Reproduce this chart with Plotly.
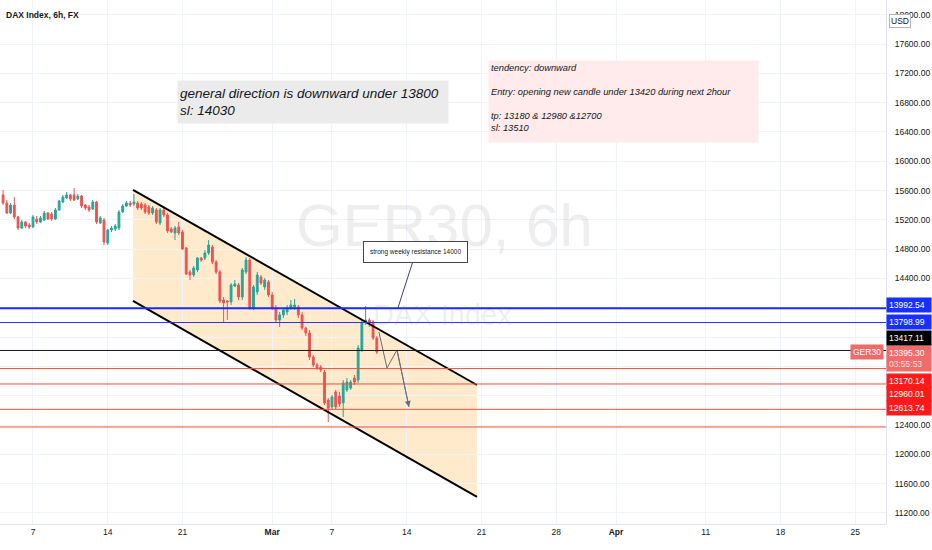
import numpy as np
import pandas as pd
import plotly.graph_objects as go

SANS = "Liberation Sans, Arial, sans-serif"
UP, DOWN = "#26a69a", "#ef5350"

# 6h bars, weekdays only, 2022-02-03 00:00 .. 2022-03-10 00:00
bar_open = [15540, 15430, 15294, 15403, 15239, 15089, 15171, 15130, 15103, 15212,
            15171, 15198, 15294, 15280, 15212, 15335, 15444, 15499, 15540, 15540,
            15485, 15526, 15403, 15376, 15348, 15444, 15157, 15198, 14884, 15062,
            15075, 15089, 15307, 15389, 15430, 15417, 15430, 15417, 15403, 15376,
            15294, 15335, 15157, 15335, 15267, 15075, 15021, 15103, 15034, 14816,
            14489, 14448, 14516, 14679, 14679, 14748, 14830, 14625, 14489, 14106,
            14093, 14079, 14297, 14311, 14147, 14489, 14652, 13997, 14216, 14420,
            14284, 14352, 14175, 13997, 13833, 13902, 13942, 13997, 14011, 14011,
            13902, 13724, 13656, 13328, 13219, 13191, 13123, 12741, 12646, 12851,
            12797, 12701, 12878, 12906, 13042, 13014, 13424, 13792, 13833, 13806,
            13588]
bar_high = [15608, 15471, 15430, 15512, 15253, 15198, 15185, 15157, 15267, 15253,
            15253, 15321, 15307, 15307, 15362, 15471, 15540, 15580, 15553, 15635,
            15553, 15540, 15417, 15403, 15471, 15458, 15253, 15226, 15075, 15116,
            15144, 15335, 15417, 15458, 15458, 15553, 15458, 15444, 15430, 15403,
            15389, 15362, 15362, 15362, 15294, 15103, 15116, 15171, 15062, 14830,
            14516, 14570, 14693, 14693, 14789, 14925, 14857, 14652, 14516, 14147,
            14106, 14338, 14379, 14338, 14543, 14693, 14679, 14311, 14489, 14448,
            14406, 14379, 14216, 14038, 13942, 13997, 14038, 14106, 14120, 14038,
            13942, 13738, 13697, 13356, 13246, 13219, 13151, 12769, 12810, 12878,
            12851, 13014, 13042, 13014, 13083, 13492, 13833, 14024, 13861, 13833,
            13615]
bar_low = [15403, 15280, 15280, 15212, 15062, 15075, 15089, 15075, 15089, 15144,
           15157, 15185, 15198, 15185, 15198, 15321, 15430, 15485, 15458, 15458,
           15471, 15362, 15335, 15307, 15335, 15144, 15144, 14857, 14857, 15034,
           15048, 15062, 15294, 15376, 15376, 15389, 15335, 15335, 15280, 15267,
           15267, 15144, 15130, 15239, 15021, 15021, 14925, 14994, 14789, 14448,
           14379, 14420, 14489, 14625, 14652, 14721, 14597, 14461, 14065, 13806,
           13833, 14038, 14284, 14106, 14106, 14461, 13970, 13970, 14175, 14311,
           14243, 14147, 13970, 13806, 13738, 13861, 13902, 13970, 13970, 13861,
           13697, 13615, 13287, 13191, 13151, 13123, 12673, 12441, 12605, 12605,
           12646, 12509, 12851, 12878, 12946, 12973, 13396, 13765, 13738, 13560,
           13369]
bar_close = [15430, 15294, 15403, 15239, 15089, 15171, 15116, 15103, 15239, 15171,
             15226, 15294, 15212, 15212, 15335, 15458, 15512, 15540, 15485, 15471,
             15526, 15389, 15362, 15335, 15444, 15171, 15226, 14898, 15062, 15089,
             15116, 15307, 15389, 15430, 15403, 15444, 15362, 15362, 15307, 15294,
             15362, 15171, 15335, 15267, 15048, 15034, 15089, 15021, 14802, 14461,
             14448, 14543, 14679, 14652, 14748, 14857, 14625, 14489, 14093, 14065,
             14079, 14311, 14325, 14147, 14516, 14652, 13997, 14284, 14448, 14338,
             14379, 14175, 13997, 13833, 13902, 13970, 13997, 14038, 14038, 13902,
             13724, 13656, 13328, 13219, 13178, 13151, 12701, 12632, 12783, 12646,
             12687, 12973, 12987, 12987, 12987, 13451, 13792, 13833, 13792, 13588,
             13395.30]

tick_dates = ["2022-02-07", "2022-02-14", "2022-02-21", "2022-03-01", "2022-03-07",
              "2022-03-14", "2022-03-21", "2022-03-28", "2022-04-01", "2022-04-11",
              "2022-04-18", "2022-04-25"]
tick_text = ["7", "14", "21", "<b>Mar</b>", "7", "14", "21", "28", "<b>Apr</b>",
             "11", "18", "25"]

yticks = list(range(11200, 18001, 400))
hidden_yticks = [12800, 13200, 13600, 14000]   # covered by the price labels

# horizontal levels drawn on the chart: (price, colour, width, label shift px)
levels = [(13992.54, "#1a2cf0", 2, 3), (13798.99, "#2338f5", 1, 1),
          (13417.11, "#131722", 1, 12), (13170.14, "#f0503c", 1, -12),
          (12960.01, "#f0503c", 1, -10), (12613.74, "#f0503c", 1, 1),
          (12373.00, "#f0503c", 1, None)]
level_bg = {13992.54: "#1830ff", 13798.99: "#1830ff", 13417.11: "#000000",
            13170.14: "#ff1a1a", 12960.01: "#ff1a1a", 12613.74: "#ff1a1a"}

# parallel channel anchors (trading-day index, price)
chan_x = [6.69, 29.7]
chan_top = [15608, 12946]
chan_bot = [14093, 11418]

# projected path drawn after the last bar
path_x = [23.14, 23.68, 24.35]
path_y = [13669, 13178, 13424]
path_end = (25.15, 12646)

base = pd.Timestamp("2022-02-07")
times = pd.date_range("2022-02-03", "2022-03-10", freq="6h")
times = times[times.weekday < 5]
bar_x = np.busday_count(base.date(), times.date.astype("datetime64[D]")) + times.hour / 24.0
tick_x = np.busday_count(base.date(), np.array(tick_dates, dtype="datetime64[D]"))

fig = go.Figure()
fig.add_trace(go.Candlestick(
    x=bar_x, open=bar_open, high=bar_high, low=bar_low, close=bar_close,
    increasing=dict(line=dict(color=UP, width=1), fillcolor=UP),
    decreasing=dict(line=dict(color=DOWN, width=1), fillcolor=DOWN),
    whiskerwidth=0, showlegend=False, hoverinfo="skip",
))
fig.add_trace(go.Scatter(
    x=path_x + [path_end[0]], y=path_y + [path_end[1]], mode="lines",
    line=dict(color="#6a6d78", width=1), showlegend=False, hoverinfo="skip",
))

shapes = [dict(
    type="path", xref="x", yref="y", layer="below",
    path=f"M {chan_x[0]},{chan_top[0]} L {chan_x[1]},{chan_top[1]} "
         f"L {chan_x[1]},{chan_bot[1]} L {chan_x[0]},{chan_bot[0]} Z",
    fillcolor="rgba(255,152,0,0.2)", line=dict(width=0),
)]
for ys in (chan_top, chan_bot):
    shapes.append(dict(type="line", xref="x", yref="y", x0=chan_x[0], x1=chan_x[1],
                       y0=ys[0], y1=ys[1], line=dict(color="#000000", width=2)))
for price, col, w, _ in levels:
    shapes.append(dict(type="line", xref="paper", yref="y", x0=0, x1=1, y0=price, y1=price,
                       line=dict(color=col, width=w)))

ann = [
    dict(text="<b>DAX Index, 6h, FX</b>", xref="paper", yref="paper", x=0.005, y=1 - 15 / 524,
         xanchor="left", yanchor="middle", showarrow=False,
         font=dict(family=SANS, size=8.5, color="#131722")),
    dict(text="GER30, 6h", xref="paper", yref="paper", x=445 / 886, y=1 - 225 / 524,
         showarrow=False, font=dict(family=SANS, size=60, color="rgba(120,123,134,0.13)")),
    dict(text="DAX Index", xref="paper", yref="paper", x=442 / 886, y=1 - 315 / 524,
         showarrow=False, font=dict(family=SANS, size=29, color="rgba(120,123,134,0.13)")),
    dict(text="general direction is downward under 13800<br>sl: 14030",
         xref="paper", yref="paper", x=177 / 886, y=1 - 80 / 524, xanchor="left", yanchor="top",
         align="left", valign="middle", showarrow=False, bgcolor="#ebebeb", borderpad=2,
         width=266, height=38,
         font=dict(family=SANS, size=13.5, style="italic", color="#131722")),
    dict(text="tendency: downward<br> <br>Entry: opening new candle under 13420 during next 2hour"
              "<br> <br>tp: 13180 &amp; 12980 &amp;12700<br>sl: 13510",
         xref="paper", yref="paper", x=488 / 886, y=1 - 60 / 524, xanchor="left", yanchor="top",
         align="left", valign="top", showarrow=False, bgcolor="#ffebeb", borderpad=2,
         width=265, height=77,
         font=dict(family=SANS, size=9.3, style="italic", color="#131722")),
    dict(text="strong weekly resistance 14000", xref="x", yref="y",
         x=(398 - 33) / 14.95, y=14000, ax=18, ay=-56, showarrow=True, arrowhead=0,
         arrowwidth=1, arrowcolor="#434651", bgcolor="#ffffff", bordercolor="#434651",
         borderwidth=1, borderpad=6, font=dict(family=SANS, size=6.5, color="#131722")),
    dict(text="", xref="x", yref="y", x=path_end[0], y=path_end[1],
         ax=path_x[-1], ay=path_y[-1], axref="x", ayref="y", showarrow=True,
         arrowhead=2, arrowsize=1.2, arrowwidth=1, arrowcolor="#6a6d78"),
    dict(text="USD", xref="paper", yref="paper", x=911 / 886, y=1 - 14 / 524,
         showarrow=False, bordercolor="#b2b5be", borderwidth=1, borderpad=1, bgcolor="#ffffff",
         font=dict(family=SANS, size=8.5, color="#131722")),
    dict(text="GER30", xref="paper", yref="y", x=0.998, y=bar_close[-1], xanchor="right",
         showarrow=False, bgcolor="#f06a6a", borderpad=2,
         font=dict(family=SANS, size=8.5, color="#ffffff")),
    dict(text=f"{bar_close[-1]:.2f}<br><span style='color:#fde0e0'>03:55:53</span>",
         xref="paper", yref="y", x=1, y=bar_close[-1], xanchor="left", yanchor="top",
         yshift=7, align="left", showarrow=False, bgcolor="#f26b6b", borderpad=2, width=40,
         font=dict(family=SANS, size=8.5, color="#ffffff")),
]
for price, col, w, shift in levels:
    if shift is None:
        continue
    ann.append(dict(text=f"{price:.2f}", xref="paper", yref="y", x=1, y=price,
                    xanchor="left", yshift=shift, align="left", showarrow=False,
                    bgcolor=level_bg[price], borderpad=2, width=40,
                    font=dict(family=SANS, size=8.5, color="#ffffff")))

fig.update_layout(
    width=932, height=550, margin=dict(l=0, r=46, t=0, b=26),
    paper_bgcolor="#ffffff", plot_bgcolor="#ffffff",
    shapes=shapes, annotations=ann, showlegend=False,
    xaxis=dict(range=[-2.207, 57.06], tickvals=tick_x, ticktext=tick_text,
               showgrid=True, gridcolor="#f0f3fa", zeroline=False, showline=True,
               linecolor="#e0e3eb", ticks="", rangeslider=dict(visible=False),
               automargin=False,
               tickfont=dict(family=SANS, size=8.5, color="#131722")),
    yaxis=dict(side="right", range=[11048.6, 18201.2], tickvals=yticks,
               ticktext=["" if v in hidden_yticks else f"{v:.2f}" for v in yticks],
               showgrid=True, gridcolor="#f0f3fa",
               zeroline=False, showline=True, linecolor="#e0e3eb", ticks="",
               ticklabelstandoff=6, automargin=False,
               tickfont=dict(family=SANS, size=8.5, color="#131722")),
)

fig.write_html("out.html", config={"displayModeBar": False},
               post_script="document.body.style.margin='0';")
